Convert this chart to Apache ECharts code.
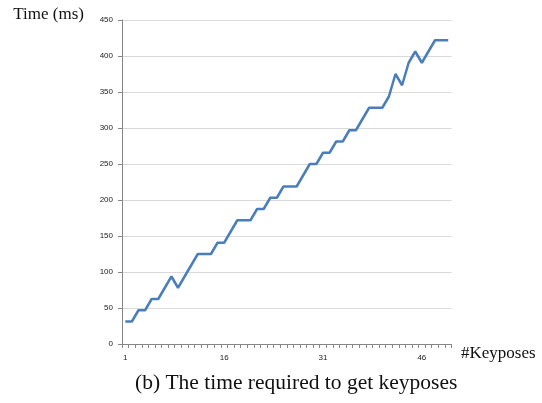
<!DOCTYPE html>
<html>
<head>
<meta charset="utf-8">
<script src="https://cdn.jsdelivr.net/npm/echarts@6/dist/echarts.min.js"></script>
<style>html,body{margin:0;padding:0;background:#fff;}#c{width:542px;height:403px;}</style>
</head>
<body>
<div id="c"></div>
<script>
const categories = Array.from({length: 50}, (_, i) => String(i + 1));
const timeMs = [
  31.25, 31.25, 46.875, 46.875, 62.5, 62.5, 78.125, 93.75, 78.125, 93.75,
  109.375, 125, 125, 125, 140.625, 140.625, 156.25, 171.875, 171.875, 171.875,
  187.5, 187.5, 203.125, 203.125, 218.75, 218.75, 218.75, 234.375, 250, 250,
  265.625, 265.625, 281.25, 281.25, 296.875, 296.875, 312.5, 328.125, 328.125, 328.125,
  343.75, 375, 359.375, 390.625, 406.25, 390.625, 406.25, 421.875, 421.875, 421.875
];
const yMin = 0, yMax = 450, yStep = 50;

const chart = echarts.init(document.getElementById('c'));
chart.setOption({
  animation: false,
  grid: {left: 122, right: 90.5, top: 20, bottom: 59},
  title: {
    text: '(b) The time required to get keyposes',
    left: 130, top: 367,
    textStyle: {fontFamily: 'Liberation Serif', fontSize: 21.5, fontWeight: 'normal', color: '#111'}
  },
  graphic: [{
    type: 'text',
    left: 461, top: 345,
    style: {text: '#Keyposes', fontFamily: 'Liberation Serif', fontSize: 17, fill: '#111'}
  }],
  xAxis: {
    type: 'category',
    data: categories,
    boundaryGap: true,
    axisLine: {lineStyle: {color: '#868686', width: 1}},
    axisTick: {show: true, interval: 0, length: 4, lineStyle: {color: '#868686'}},
    axisLabel: {interval: 14, fontSize: 8, color: '#222', fontFamily: 'Liberation Sans', margin: 10},
    splitLine: {show: false}
  },
  yAxis: {
    type: 'value',
    min: yMin, max: yMax, interval: yStep,
    name: 'Time (ms)',
    nameLocation: 'end',
    nameGap: 5,
    nameTextStyle: {fontFamily: 'Liberation Serif', fontSize: 17, color: '#111', align: 'right', verticalAlign: 'middle', padding: [0, 38, 0, 0]},
    axisLine: {show: true, lineStyle: {color: '#868686', width: 1}},
    axisTick: {show: true, length: 4, lineStyle: {color: '#868686'}},
    axisLabel: {fontSize: 8, color: '#222', fontFamily: 'Liberation Sans', margin: 9},
    splitLine: {show: true, lineStyle: {color: '#d9d9d9', width: 1}}
  },
  series: [{
    type: 'line',
    data: timeMs,
    showSymbol: false,
    symbol: 'none',
    lineStyle: {color: '#4a7ebb', width: 2.5},
    itemStyle: {color: '#4a7ebb'}
  }]
});
</script>
</body>
</html>
